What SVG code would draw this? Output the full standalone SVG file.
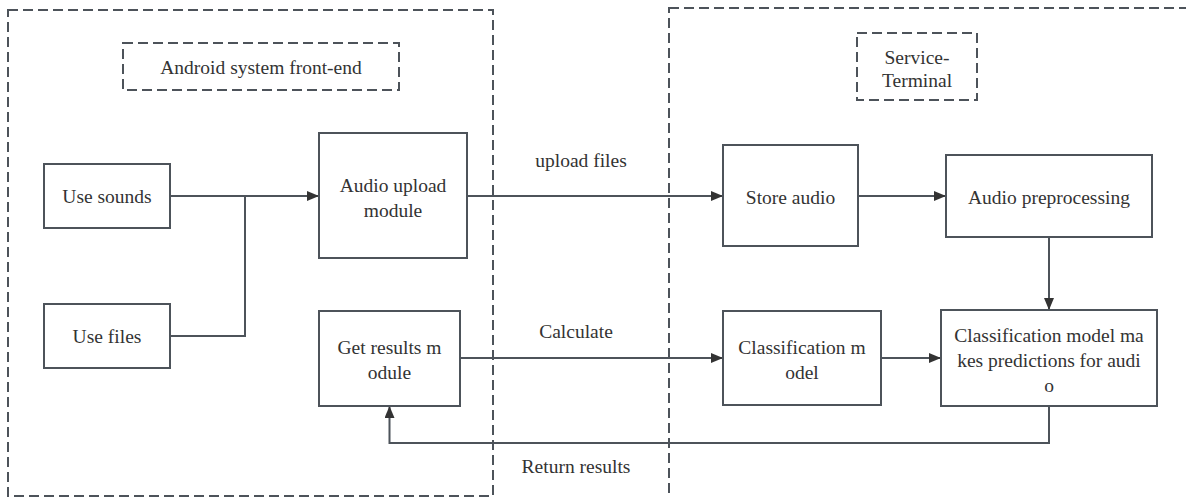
<svg xmlns="http://www.w3.org/2000/svg" width="1186" height="497" viewBox="0 0 1186 497">
<defs>
<marker id="arr" markerUnits="userSpaceOnUse" markerWidth="13" markerHeight="11" refX="12" refY="5" orient="auto">
<path d="M0,0 L12,5 L0,10 z" fill="#333"/>
</marker>
<style>
.box{fill:#fff;stroke:#4d535a;stroke-width:2}
.dash{fill:none;stroke:#4d535a;stroke-width:2;stroke-dasharray:10 5}
.t{font-size:19.5px;fill:#333;text-anchor:middle;dominant-baseline:central}
.ln{fill:none;stroke:#4d535a;stroke-width:2}
</style>
</defs>
<rect width="1186" height="497" fill="#fff"/>
<g font-family="'Liberation Serif', 'Times New Roman', 'DejaVu Serif', serif">
<g id="container-android">
<rect class="dash" x="8" y="10" width="485" height="486"/>
<rect class="dash" x="123" y="43" width="276" height="47"/>
<text class="t" x="261" y="67">Android system front-end</text>
</g>
<g id="container-service">
<rect class="dash" x="669" y="8" width="530" height="500"/>
<rect class="dash" x="857" y="33" width="120" height="67"/>
<text class="t" x="917" y="57">Service-</text>
<text class="t" x="917" y="80">Terminal</text>
</g>
<g id="connectors">
<path class="ln" d="M170,196 H319" marker-end="url(#arr)"/>
<path class="ln" d="M170,336 H245 V196"/>
<path class="ln" d="M467,196 H723" marker-end="url(#arr)"/>
<path class="ln" d="M858,196 H946" marker-end="url(#arr)"/>
<path class="ln" d="M1049,237 V310" marker-end="url(#arr)"/>
<path class="ln" d="M460,358 H723" marker-end="url(#arr)"/>
<path class="ln" d="M881,358 H941" marker-end="url(#arr)"/>
<path class="ln" d="M1049,406 V443 H389.5 V406" marker-end="url(#arr)"/>
<text class="t" x="581" y="160">upload files</text>
<text class="t" x="576" y="331">Calculate</text>
<text class="t" x="576" y="466">Return results</text>
</g>
<g id="use-sounds">
<rect class="box" x="44" y="164" width="126" height="64"/>
<text class="t" x="107" y="196">Use sounds</text>
</g>
<g id="use-files">
<rect class="box" x="44" y="304" width="126" height="64"/>
<text class="t" x="107" y="336">Use files</text>
</g>
<g id="audio-upload">
<rect class="box" x="319" y="133" width="148" height="125"/>
<text class="t" x="393" y="185">Audio upload</text>
<text class="t" x="393" y="210">module</text>
</g>
<g id="get-results">
<rect class="box" x="319" y="311" width="141" height="95"/>
<text class="t" x="389.5" y="347">Get results m</text>
<text class="t" x="389.5" y="372">odule</text>
</g>
<g id="store-audio">
<rect class="box" x="723" y="145" width="135" height="101"/>
<text class="t" x="790.5" y="197">Store audio</text>
</g>
<g id="audio-preprocessing">
<rect class="box" x="946" y="155" width="206" height="82"/>
<text class="t" x="1049" y="197">Audio preprocessing</text>
</g>
<g id="classification-model">
<rect class="box" x="723" y="311" width="158" height="94"/>
<text class="t" x="802" y="347">Classification m</text>
<text class="t" x="802" y="372">odel</text>
</g>
<g id="prediction">
<rect class="box" x="941" y="310" width="216" height="96"/>
<text class="t" x="1049" y="335">Classification model ma</text>
<text class="t" x="1049" y="360">kes predictions for audi</text>
<text class="t" x="1049" y="385">o</text>
</g>
</g>
</svg>
